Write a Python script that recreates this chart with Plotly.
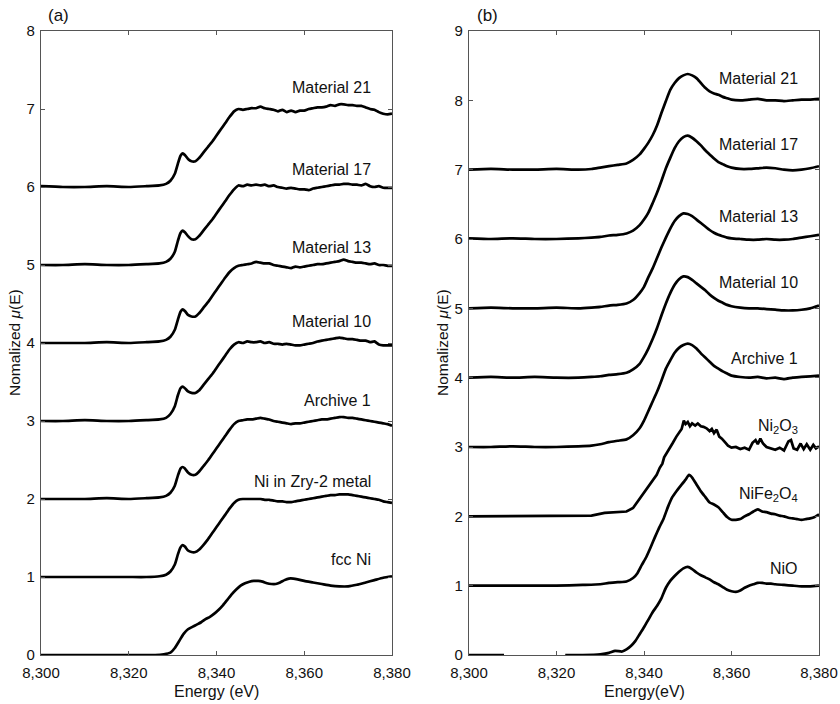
import plotly.graph_objects as go

# ---------------- data: panel (a) ----------------
E_LEFT = [8300, 8305, 8310, 8315, 8320, 8324, 8327, 8328.5, 8329.5, 8330.5,
          8331.2, 8331.8, 8332.3, 8332.8, 8333.5, 8334.3, 8335.2, 8336, 8337, 8338,
          8339, 8340, 8341, 8342, 8343, 8344, 8345, 8346, 8347, 8348,
          8349, 8350, 8351, 8352, 8353, 8354, 8355, 8356, 8357, 8358,
          8359, 8360, 8361, 8362, 8363, 8364, 8365, 8366, 8367, 8368,
          8369, 8370, 8371, 8372, 8373, 8374, 8375, 8376, 8377, 8378,
          8379, 8380]

mat21_a = [6.01, 6.00, 6.00, 6.01, 6.00, 6.01, 6.02, 6.04, 6.08, 6.17,
           6.30, 6.40, 6.43, 6.41, 6.36, 6.33, 6.33, 6.37, 6.44, 6.51,
           6.58, 6.66, 6.74, 6.82, 6.90, 6.97, 7.00, 6.99, 7.00, 7.01,
           7.01, 7.03, 7.01, 7.00, 6.99, 6.97, 6.99, 6.96, 6.98, 6.96,
           6.98, 6.98, 7.00, 7.01, 7.02, 7.02, 7.03, 7.05, 7.04, 7.06,
           7.06, 7.05, 7.05, 7.04, 7.04, 7.02, 7.00, 6.99, 6.96, 6.94,
           6.93, 6.94]
mat17_a = [5.00, 5.00, 5.01, 5.00, 5.00, 5.01, 5.02, 5.04, 5.08, 5.17,
           5.31, 5.41, 5.44, 5.42, 5.37, 5.33, 5.33, 5.37, 5.44, 5.51,
           5.58, 5.66, 5.74, 5.82, 5.90, 5.97, 6.02, 6.01, 6.03, 6.02,
           6.03, 6.02, 6.03, 6.01, 6.02, 6.00, 5.99, 5.98, 5.99, 5.98,
           5.97, 5.97, 5.96, 5.98, 5.99, 6.00, 6.01, 6.02, 6.03, 6.03,
           6.04, 6.04, 6.03, 6.03, 6.02, 6.04, 6.01, 6.00, 6.01, 5.99,
           5.99, 5.99]
mat13_a = [4.00, 4.00, 4.00, 4.01, 4.00, 4.01, 4.02, 4.04, 4.08, 4.17,
           4.30, 4.40, 4.43, 4.41, 4.36, 4.34, 4.34, 4.38, 4.45, 4.52,
           4.60, 4.68, 4.76, 4.84, 4.91, 4.96, 4.99, 5.00, 5.01, 5.02,
           5.04, 5.03, 5.02, 5.02, 5.00, 4.99, 4.98, 4.97, 4.96, 4.98,
           4.97, 4.98, 4.99, 5.00, 5.01, 5.01, 5.02, 5.03, 5.04, 5.05,
           5.07, 5.05, 5.04, 5.03, 5.03, 5.02, 5.01, 5.02, 5.00, 5.00,
           4.99, 4.99]
mat10_a = [3.00, 3.00, 3.01, 3.00, 3.00, 3.01, 3.02, 3.04, 3.09, 3.19,
           3.33, 3.42, 3.44, 3.42, 3.38, 3.36, 3.36, 3.39, 3.46, 3.53,
           3.60, 3.68, 3.76, 3.84, 3.92, 3.98, 4.01, 4.00, 4.02, 4.01,
           4.01, 4.02, 4.00, 4.01, 3.99, 3.99, 3.98, 3.99, 3.98, 3.97,
           3.97, 3.98, 3.99, 4.00, 4.02, 4.03, 4.04, 4.05, 4.06, 4.07,
           4.06, 4.05, 4.05, 4.04, 4.03, 4.03, 4.01, 4.02, 3.98, 3.97,
           3.97, 3.97]
arch1_a = [2.00, 2.00, 2.00, 2.01, 2.00, 2.01, 2.02, 2.04, 2.08, 2.17,
           2.30, 2.39, 2.41, 2.39, 2.34, 2.31, 2.31, 2.35, 2.42, 2.49,
           2.57, 2.65, 2.73, 2.81, 2.89, 2.96, 3.00, 3.01, 3.02, 3.02,
           3.03, 3.04, 3.03, 3.02, 3.00, 2.99, 2.98, 2.97, 2.96, 2.97,
           2.97, 2.98, 2.99, 3.00, 3.01, 3.02, 3.02, 3.03, 3.04, 3.05,
           3.05, 3.04, 3.04, 3.03, 3.02, 3.01, 3.00, 2.99, 2.98, 2.97,
           2.96, 2.94]
nizry_a = [1.00, 1.00, 1.00, 1.00, 1.00, 1.00, 1.01, 1.03, 1.07, 1.16,
           1.29, 1.38, 1.41, 1.39, 1.34, 1.32, 1.32, 1.35, 1.41, 1.48,
           1.56, 1.64, 1.72, 1.80, 1.88, 1.95, 1.99, 2.00, 2.00, 2.00,
           2.00, 2.00, 1.99, 1.99, 1.98, 1.97, 1.97, 1.96, 1.96, 1.97,
           1.98, 1.99, 2.00, 2.01, 2.02, 2.03, 2.04, 2.05, 2.05, 2.06,
           2.06, 2.06, 2.05, 2.04, 2.03, 2.02, 2.01, 2.00, 1.99, 1.97,
           1.96, 1.95]

E_FCC = [8300, 8310, 8320, 8326, 8328, 8329.5, 8330.5, 8331.5, 8332.5, 8333.5,
         8334.5, 8335.5, 8336.5, 8337.5, 8338.5, 8339.5, 8340.5, 8341.5, 8342.5, 8343.5,
         8344.5, 8345.5, 8346.5, 8347.5, 8348.5, 8349.5, 8350.5, 8351.5, 8352.5, 8353.5,
         8354.5, 8355.5, 8356.5, 8357.5, 8358.5, 8360, 8362, 8364, 8366, 8368,
         8370, 8372, 8374, 8376, 8378, 8380]
fcc_ni = [0.00, 0.00, 0.00, 0.00, 0.01, 0.03, 0.09, 0.18, 0.27, 0.33,
          0.36, 0.39, 0.42, 0.46, 0.49, 0.53, 0.58, 0.64, 0.71, 0.78,
          0.84, 0.89, 0.92, 0.94, 0.95, 0.95, 0.94, 0.92, 0.91, 0.91,
          0.93, 0.96, 0.98, 0.98, 0.97, 0.95, 0.93, 0.91, 0.89, 0.88,
          0.88, 0.90, 0.93, 0.96, 0.99, 1.01]

# ---------------- data: panel (b) ----------------
E_RIGHT = [8300, 8305, 8310, 8315, 8320, 8325, 8328, 8330, 8332, 8334,
           8336, 8337.5, 8339, 8340, 8341, 8342, 8343, 8344, 8345, 8346,
           8347, 8348, 8349, 8350, 8351, 8352, 8353, 8354, 8355, 8356,
           8357, 8358, 8359, 8360, 8362, 8364, 8366, 8368, 8370, 8372,
           8374, 8376, 8378, 8380]
mat21_b = [7.00, 7.01, 7.00, 7.00, 7.01, 7.00, 7.01, 7.03, 7.05, 7.07,
           7.09, 7.14, 7.22, 7.30, 7.39, 7.50, 7.64, 7.82, 7.99, 8.15,
           8.25, 8.32, 8.36, 8.38, 8.36, 8.32, 8.25, 8.18, 8.13, 8.10,
           8.08, 8.05, 8.03, 8.01, 8.00, 8.01, 8.02, 8.00, 8.00, 7.99,
           8.00, 8.01, 8.01, 8.02]
mat17_b = [6.01, 6.00, 6.01, 6.00, 6.00, 6.01, 6.02, 6.03, 6.05, 6.06,
           6.08, 6.12, 6.20, 6.28, 6.38, 6.52, 6.67, 6.84, 7.02, 7.17,
           7.31, 7.41, 7.47, 7.49, 7.46, 7.41, 7.35, 7.28, 7.22, 7.16,
           7.11, 7.08, 7.05, 7.03, 7.01, 7.01, 7.02, 7.03, 7.02, 7.00,
           6.99, 7.00, 7.02, 7.05]
mat13_b = [5.00, 5.01, 5.00, 5.00, 5.01, 5.00, 5.01, 5.02, 5.04, 5.05,
           5.07, 5.12, 5.22, 5.31, 5.45, 5.58, 5.73, 5.88, 6.02, 6.15,
           6.26, 6.33, 6.37, 6.36, 6.33, 6.28, 6.23, 6.18, 6.13, 6.09,
           6.06, 6.04, 6.02, 6.01, 6.00, 5.99, 5.99, 6.00, 5.99, 5.99,
           6.00, 6.02, 6.04, 6.06]
mat10_b = [4.00, 4.01, 4.00, 4.01, 4.00, 4.00, 4.01, 4.02, 4.04, 4.05,
           4.07, 4.12, 4.20, 4.30, 4.42, 4.56, 4.72, 4.90, 5.07, 5.22,
           5.34, 5.42, 5.46, 5.45, 5.41, 5.36, 5.31, 5.26, 5.20, 5.15,
           5.11, 5.08, 5.05, 5.03, 5.01, 5.00, 5.00, 4.99, 4.98, 4.97,
           4.97, 4.98, 5.00, 5.04]
arch1_b = [3.00, 3.00, 3.01, 3.00, 3.00, 3.01, 3.02, 3.04, 3.07, 3.09,
           3.11, 3.17, 3.27, 3.38, 3.52, 3.66, 3.80, 3.96, 4.13, 4.25,
           4.36, 4.43, 4.47, 4.49, 4.47, 4.42, 4.35, 4.29, 4.23, 4.17,
           4.13, 4.09, 4.06, 4.03, 4.01, 4.00, 4.01, 3.99, 4.00, 3.98,
           4.00, 4.01, 4.02, 4.03]

E_NI2O3 = [8300, 8310, 8320, 8328, 8331, 8334, 8336, 8337.5, 8338.3, 8339.5,
           8340.6, 8341.5, 8342.1, 8342.9, 8343.6, 8344.2, 8344.6, 8345.2, 8345.8, 8346.5,
           8347.4, 8348, 8348.6, 8349.1, 8349.5, 8350, 8350.5, 8351, 8351.7, 8352.3,
           8353, 8353.6, 8354.3, 8355, 8355.5, 8356, 8356.6, 8357.2, 8357.8, 8358.5,
           8359.2, 8360, 8361, 8362, 8363, 8364, 8364.8, 8365.5, 8366, 8366.6,
           8367.2, 8368, 8369, 8370, 8371, 8372, 8373, 8373.6, 8374.2, 8375,
           8375.8, 8376.5, 8377.2, 8378, 8378.7, 8379.3, 8380]
ni2o3 = [2.00, 2.00, 2.00, 2.01, 2.05, 2.06, 2.07, 2.12, 2.19, 2.30,
         2.40, 2.47, 2.52, 2.60, 2.70, 2.76, 2.85, 2.91, 2.96, 3.05,
         3.15, 3.20, 3.26, 3.38, 3.33, 3.36, 3.30, 3.34, 3.31, 3.34,
         3.30, 3.29, 3.27, 3.23, 3.26, 3.20, 3.25, 3.15, 3.12, 3.07,
         3.02, 2.99, 3.00, 2.97, 2.99, 2.96, 3.06, 3.10, 3.04, 3.12,
         3.05, 3.00, 2.98, 2.96, 2.99, 2.95, 3.08, 3.10, 2.98, 2.96,
         3.05, 2.97, 3.04, 2.96, 3.03, 2.98, 3.01]

E_NIFE = [8300, 8310, 8320, 8326, 8330, 8332, 8334, 8336, 8337.5, 8338.5,
          8339.5, 8340.5, 8341.5, 8342.5, 8343.5, 8344.5, 8345.5, 8346.5, 8347.5, 8348.5,
          8349.5, 8350.3, 8351, 8352, 8353, 8354, 8355, 8356, 8357, 8358,
          8359, 8360, 8361, 8362, 8363, 8364, 8365, 8366, 8367, 8368,
          8369, 8370, 8371, 8372, 8373, 8374, 8375, 8376, 8377, 8378,
          8379, 8380]
nife2o4 = [1.00, 1.00, 1.00, 1.01, 1.02, 1.04, 1.05, 1.06, 1.11, 1.18,
           1.30, 1.41, 1.55, 1.70, 1.84, 1.97, 2.14, 2.28, 2.37, 2.45,
           2.53, 2.60, 2.56, 2.46, 2.36, 2.28, 2.20, 2.17, 2.13, 2.06,
           1.99, 1.95, 1.95, 1.96, 2.00, 2.03, 2.07, 2.10, 2.07, 2.06,
           2.04, 2.03, 2.01, 2.00, 1.98, 1.97, 1.96, 1.95, 1.96, 1.97,
           1.99, 2.03]

E_NIO = [8300, 8304, 8308, 8315, 8322, 8326, 8330, 8332, 8333.4, 8335,
         8336, 8337, 8338, 8339, 8340, 8341, 8342, 8343, 8344, 8345,
         8346, 8347, 8348, 8349, 8350, 8351, 8352, 8353, 8354, 8355,
         8356, 8357, 8358, 8359, 8360, 8361, 8362, 8363, 8364, 8365,
         8366, 8367, 8368, 8369, 8370, 8372, 8374, 8376, 8378, 8380]
nio = [0.00, 0.00, 0.00, None, 0.00, 0.00, 0.01, 0.03, 0.06, 0.05,
       0.08, 0.13, 0.20, 0.30, 0.40, 0.51, 0.62, 0.71, 0.82, 0.97,
       1.07, 1.14, 1.20, 1.25, 1.27, 1.24, 1.19, 1.15, 1.12, 1.09,
       1.05, 1.02, 0.98, 0.94, 0.92, 0.91, 0.93, 0.97, 1.00, 1.02,
       1.04, 1.04, 1.03, 1.03, 1.02, 1.01, 1.00, 0.99, 0.99, 1.00]

X_TICKS = [8300, 8320, 8340, 8360, 8380]
Y_TICKS_A = [0, 1, 2, 3, 4, 5, 6, 7, 8]
Y_TICKS_B = [0, 1, 2, 3, 4, 5, 6, 7, 8, 9]

LABELS_A = ["Material 21", "Material 17", "Material 13", "Material 10",
            "Archive 1", "Ni in Zry-2 metal", "fcc Ni"]
LABEL_Y_A = [7.27, 6.22, 5.23, 4.27, 3.26, 2.23, 1.23]
LABELS_B = ["Material 21", "Material 17", "Material 13", "Material 10",
            "Archive 1", "Ni<sub>2</sub>O<sub>3</sub>", "NiFe<sub>2</sub>O<sub>4</sub>", "NiO"]
LABEL_Y_B = [8.32, 7.36, 6.33, 5.37, 4.28, 3.30, 2.31, 1.25]

# ---------------- figure ----------------
W, H = 840, 704
FONT = "Liberation Sans, Arial, sans-serif"
fig = go.Figure()

line = dict(color="black", width=2.7)
series_a = [(E_LEFT, mat21_a), (E_LEFT, mat17_a), (E_LEFT, mat13_a), (E_LEFT, mat10_a),
            (E_LEFT, arch1_a), (E_LEFT, nizry_a), (E_FCC, fcc_ni)]
for ex, ys in series_a:
    fig.add_trace(go.Scatter(x=ex, y=ys, mode="lines", line=dict(line, shape="spline", smoothing=0.5),
                             xaxis="x", yaxis="y", showlegend=False, connectgaps=False,
                             hoverinfo="skip"))

series_b = [(E_RIGHT, mat21_b, True), (E_RIGHT, mat17_b, True), (E_RIGHT, mat13_b, True),
            (E_RIGHT, mat10_b, True), (E_RIGHT, arch1_b, True), (E_NI2O3, ni2o3, False),
            (E_NIFE, nife2o4, True), (E_NIO, nio, True)]
for ex, ys, smooth in series_b:
    ln = dict(line, shape="spline", smoothing=0.5) if smooth else dict(line, shape="linear")
    fig.add_trace(go.Scatter(x=ex, y=ys, mode="lines", line=ln,
                             xaxis="x2", yaxis="y2", showlegend=False, connectgaps=False,
                             hoverinfo="skip"))

def px_x(p):
    return p / W

def px_y(p):
    return 1 - p / H

axis_common = dict(showgrid=False, zeroline=False, showline=True, mirror="ticks",
                   linecolor="#555", linewidth=1.2, ticks="inside", ticklen=4,
                   tickcolor="#555", tickwidth=1, automargin=False,
                   tickfont=dict(family=FONT, size=15, color="#111"))

fig.update_layout(
    width=W, height=H,
    margin=dict(l=0, r=0, t=0, b=0, autoexpand=False),
    paper_bgcolor="white", plot_bgcolor="white",
    xaxis=dict(axis_common, domain=[px_x(41), px_x(392)], range=[8300, 8380],
               tickvals=X_TICKS, tickformat=",d", anchor="y", ticklabelstandoff=4),
    yaxis=dict(axis_common, domain=[px_y(655), px_y(31)], range=[0, 8],
               tickvals=Y_TICKS_A, anchor="x", ticklabelstandoff=2),
    xaxis2=dict(axis_common, domain=[px_x(469), px_x(819)], range=[8300, 8380],
                tickvals=X_TICKS, tickformat=",d", anchor="y2", ticklabelstandoff=4),
    yaxis2=dict(axis_common, domain=[px_y(655), px_y(31)], range=[0, 9],
                tickvals=Y_TICKS_B, anchor="x2", ticklabelstandoff=2),
)

ann = []
for t, yv in zip(LABELS_A, LABEL_Y_A):
    ann.append(dict(text=t, x=8375.7, y=yv, xref="x", yref="y", xanchor="right",
                    yanchor="middle", showarrow=False,
                    font=dict(family=FONT, size=16, color="#111")))
for t, yv in zip(LABELS_B, LABEL_Y_B):
    ann.append(dict(text=t, x=8375.7, y=yv, xref="x2", yref="y2", xanchor="right",
                    yanchor="middle", showarrow=False,
                    font=dict(family=FONT, size=16, color="#111")))

# axis titles and panel labels
ann.append(dict(text="Energy (eV)", x=px_x(216.5), y=px_y(691), xref="paper", yref="paper",
                showarrow=False, xanchor="center", yanchor="middle",
                font=dict(family=FONT, size=16, color="#111")))
ann.append(dict(text="Energy(eV)", x=px_x(644), y=px_y(691), xref="paper", yref="paper",
                showarrow=False, xanchor="center", yanchor="middle",
                font=dict(family=FONT, size=16, color="#111")))
for xp in (14, 442):
    ann.append(dict(text="Nomalized <i>μ</i>(E)", x=px_x(xp), y=px_y(343), xref="paper",
                    yref="paper", showarrow=False, textangle=-90, xanchor="center",
                    yanchor="middle", font=dict(family=FONT, size=15.5, color="#111")))
ann.append(dict(text="(a)", x=px_x(58), y=px_y(16), xref="paper", yref="paper",
                showarrow=False, xanchor="center", yanchor="middle",
                font=dict(family=FONT, size=17, color="#111")))
ann.append(dict(text="(b)", x=px_x(487.5), y=px_y(16), xref="paper", yref="paper",
                showarrow=False, xanchor="center", yanchor="middle",
                font=dict(family=FONT, size=17, color="#111")))
fig.update_layout(annotations=ann)

# remove the default page margin so the figure sits at the window origin
fig.write_html("out.html", config={"displayModeBar": False},
               post_script="document.body.style.margin='0px';document.body.style.overflow='hidden';")
